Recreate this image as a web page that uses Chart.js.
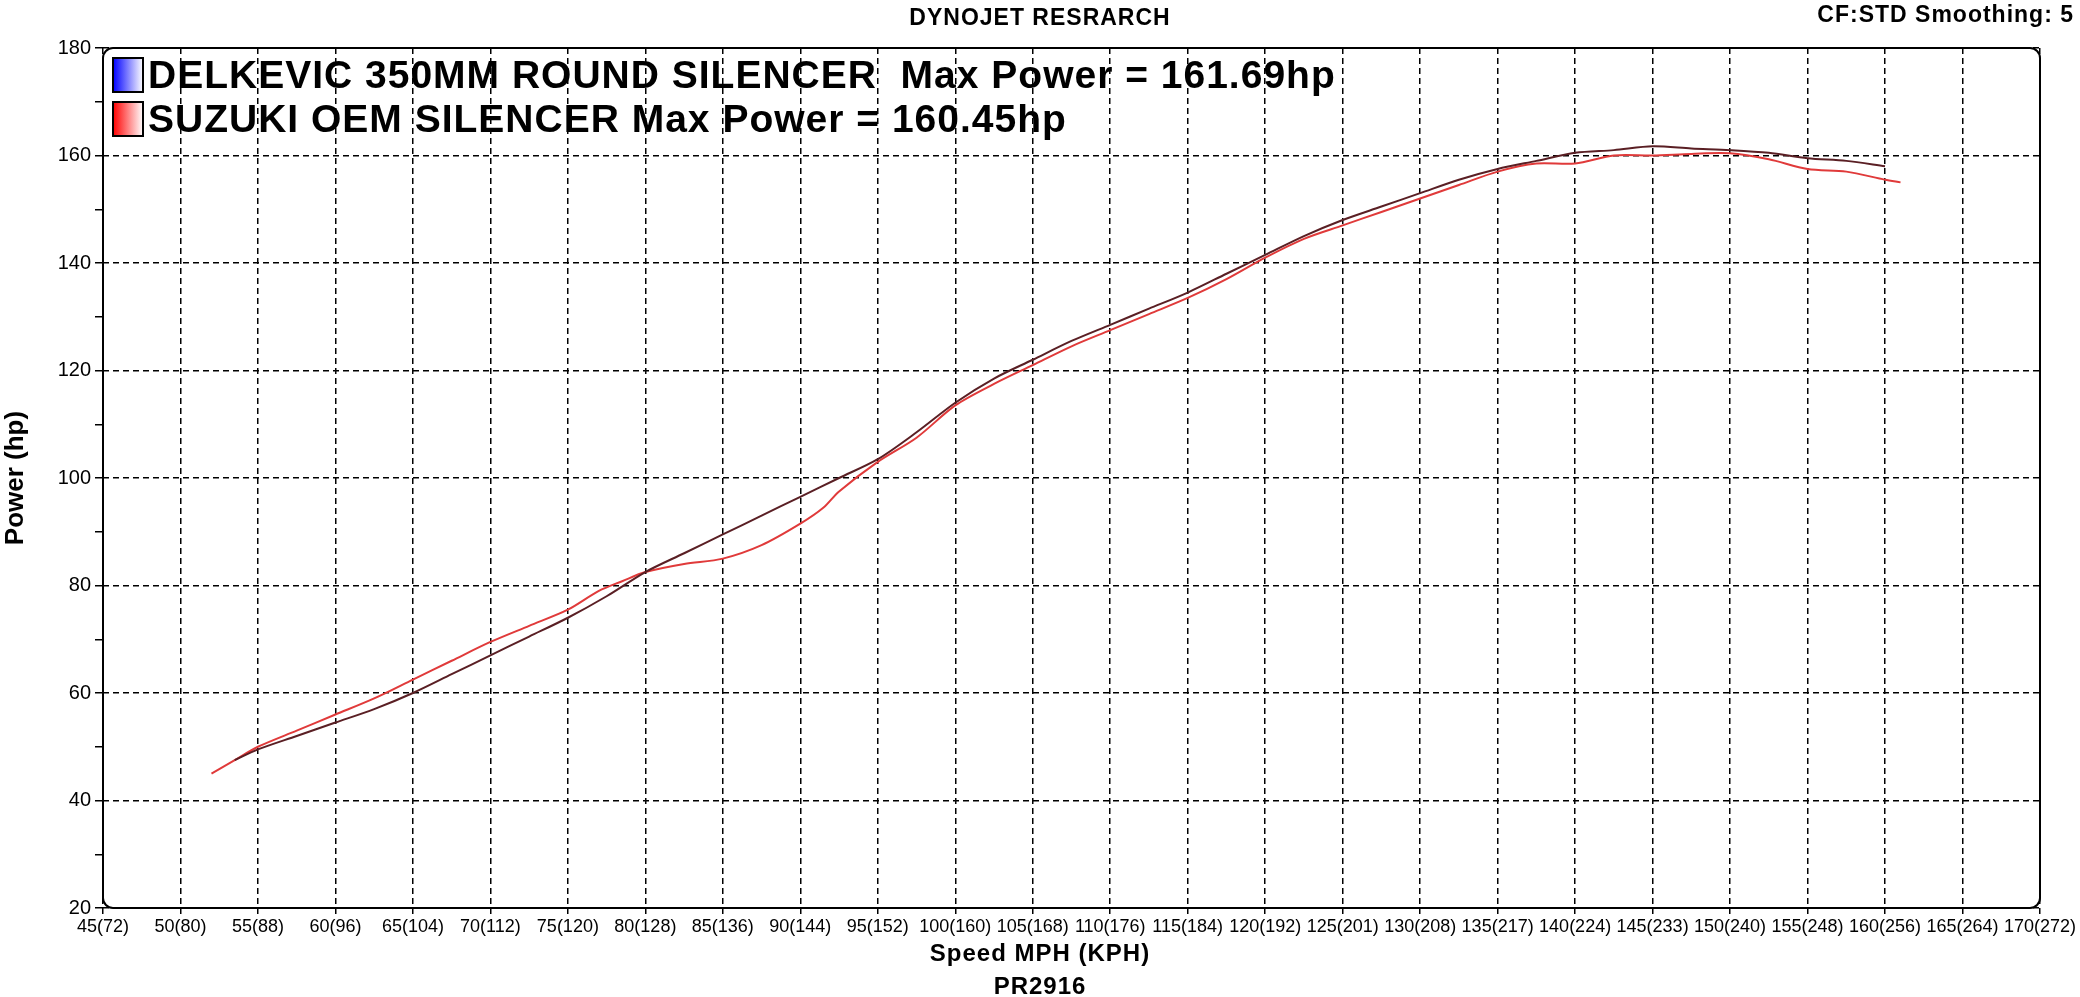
<!DOCTYPE html>
<html><head><meta charset="utf-8">
<script src="https://cdn.jsdelivr.net/npm/chart.js@4"></script>
<style>html,body{margin:0;padding:0;background:#fff}#w{width:2080px;height:997px}</style>
</head><body><div id="w"><canvas id="c"></canvas></div>
<script>
const xTicks=[45,50,55,60,65,70,75,80,85,90,95,100,105,110,115,120,125,130,135,140,145,150,155,160,165,170];
const kphTicks=[72,80,88,96,104,112,120,128,136,144,152,160,168,176,184,192,201,208,217,224,233,240,248,256,264,272];
const delkevicMph=[53.5,55,57.5,60,62.5,65,67.5,70,72.5,75,77.5,80,82.5,85,87.5,90,92.5,95,97.5,100,102.5,105,107.5,110,112.5,115,117.5,120,122.5,125,127.5,130,132.5,135,137.5,140,142.5,145,147.5,150,152.5,155,157.5,160];
const delkevicHp=[47.5,49.5,52,54.5,57,60,63.5,67,70.5,74,78,82.5,86,89.5,93,96.5,100,103.5,108.5,114,118.5,122,125.5,128.5,131.5,134.5,138,141.5,145,148,150.5,153,155.5,157.5,159,160.5,161,161.7,161.3,161,160.5,159.5,159,158];
const suzukiMph=[52,53.5,55,57.5,60,62.5,65,67.5,70,72.5,75,77,78.5,80,82.5,85,87.5,90,91.5,92.5,95,97.5,100,102.5,105,107.5,110,112.5,115,117.5,120,122.5,125,127.5,130,132.5,135,137.5,140,142.5,145,147.5,150,152.5,155,157.5,160,161];
const suzukiHp=[45,47.5,50,53,56,59,62.5,66,69.5,72.5,75.5,79,80.8,82.5,84,85,87.5,91.5,94.5,97.5,103,107.5,113.5,117.5,121,124.5,127.5,130.5,133.5,137,141,144.5,147,149.5,152,154.5,157,158.5,158.5,160,160,160.3,160.4,159.3,157.5,157,155.5,155];
const legendLabels=['DELKEVIC 350MM ROUND SILENCER  Max Power = 161.69hp','SUZUKI OEM SILENCER Max Power = 160.45hp'];
const mk=(xs,ys)=>xs.map((x,i)=>({x,y:ys[i]}));
const deco={id:'deco',afterDraw(ch){
 const c=ch.ctx,a=ch.chartArea;c.save();
 c.strokeStyle='#000';c.lineWidth=2;c.beginPath();c.roundRect(a.left,a.top,a.right-a.left,a.bottom-a.top,10);c.stroke();
 c.fillStyle='#000';c.textBaseline='middle';
 c.letterSpacing='1px';
 c.font='bold 23px Arial, "Liberation Sans"';c.textAlign='center';c.fillText('DYNOJET RESRARCH',1040,19);
 c.textAlign='right';c.fillText('CF:STD Smoothing: 5',2074,16);
 c.textAlign='center';c.font='bold 24px Arial, "Liberation Sans"';c.fillText('Speed MPH (KPH)',1040,954);
 c.fillText('PR2916',1040,987);
 const cols=[['#0000ff','#ffffff'],['#ff0000','#ffffff']];
 c.letterSpacing='1px';
 c.font='bold 39px Arial, "Liberation Sans"';c.textAlign='left';
 legendLabels.forEach((t,i)=>{const y=75+i*44,x=113;
  const g=c.createLinearGradient(x,0,x+30,0);g.addColorStop(0,cols[i][0]);g.addColorStop(1,cols[i][1]);
  c.fillStyle=g;c.fillRect(x,y-17,30,34);c.strokeStyle='#000';c.lineWidth=2;c.strokeRect(x,y-17,30,34);
  c.fillStyle='#000';c.fillText(t,x+35,y+2);});
 c.restore();}};
new Chart(document.getElementById('c'),{type:'line',
 data:{datasets:[
  {label:legendLabels[0],data:mk(delkevicMph,delkevicHp),borderColor:'#5a1f24',borderWidth:2,pointRadius:0,tension:0.3},
  {label:legendLabels[1],data:mk(suzukiMph,suzukiHp),borderColor:'#e03a3a',borderWidth:2,pointRadius:0,tension:0.3}]},
 options:{responsive:true,maintainAspectRatio:false,animation:false,
  layout:{padding:{top:48,right:40,left:0,bottom:0}},
  plugins:{legend:{display:false},tooltip:{enabled:false}},
  scales:{
   x:{type:'linear',min:45,max:170,afterFit(s){s.height=89;},
    afterBuildTicks(s){s.ticks=xTicks.map(v=>({value:v}));},
    ticks:{autoSkip:false,maxRotation:0,color:'#000',font:{size:18,family:'Arial, "Liberation Sans"'},padding:2,
     callback:(v)=>{const i=xTicks.indexOf(v);return v+'('+kphTicks[i]+')';}},
    grid:{color:'#000',lineWidth:1.5,tickLength:6,drawTicks:true},border:{display:false,dash:[6,4]}},
   y:{min:20,max:180,afterFit(s){s.width=103;},
    ticks:{stepSize:10,color:'#000',font:{size:20,family:'Arial, "Liberation Sans"'},padding:4,callback:v=>v%20===0?v:''},
    grid:{color:c=>c.tick&&c.tick.value%20===0?'#000':'rgba(0,0,0,0)',lineWidth:1.5,tickLength:8,tickColor:'#000'},border:{display:false,dash:[6,4]},
    title:{display:true,text:'Power (hp)',color:'#000',font:{size:26,weight:'bold',family:'Arial, "Liberation Sans"'},padding:0}}
  }},plugins:[deco]});
</script></body></html>
